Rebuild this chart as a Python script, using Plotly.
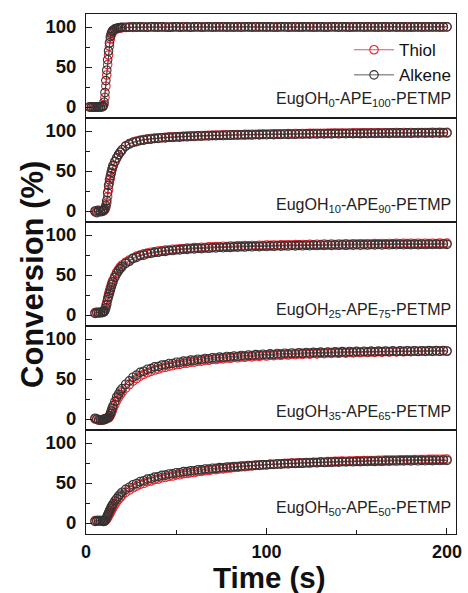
import plotly.graph_objects as go
from plotly.subplots import make_subplots

time_s = [2, 3, 4, 5, 6, 7, 8, 9, 9.5, 10, 10.5, 11, 11.5, 12, 12.5, 13, 13.5, 14, 14.5, 15, 16, 17, 18, 19, 20,
          22, 24, 26, 28, 30, 32, 34, 36, 38, 40,
          42, 44, 46, 48, 50, 52, 54, 56, 58, 60,
          62, 64, 66, 68, 70, 72, 74, 76, 78, 80,
          82, 84, 86, 88, 90, 92, 94, 96, 98, 100,
          102, 104, 106, 108, 110, 112, 114, 116, 118, 120,
          122, 124, 126, 128, 130, 132, 134, 136, 138, 140,
          142, 144, 146, 148, 150, 152, 154, 156, 158, 160,
          162, 164, 166, 168, 170, 172, 174, 176, 178, 180,
          182, 184, 186, 188, 190, 192, 194, 196, 198, 200]

panel_labels = ["EugOH<sub>0</sub>-APE<sub>100</sub>-PETMP",
                "EugOH<sub>10</sub>-APE<sub>90</sub>-PETMP",
                "EugOH<sub>25</sub>-APE<sub>75</sub>-PETMP",
                "EugOH<sub>35</sub>-APE<sub>65</sub>-PETMP",
                "EugOH<sub>50</sub>-APE<sub>50</sub>-PETMP"]

# ---- Panel 1 : EugOH0-APE100 ----
thiol_1 = [-0.2, 0.3, -0.3, 0.4, -0.1, 0.2, -0.4, 0.2, 0.8, 3, 12, 26, 40, 53, 65, 76, 85, 90, 93, 95, 96.8, 97.7, 98.3, 98.8, 99.2,
           99.3, 99.6, 99.5, 99.8, 99.7, 99.9, 99.6, 100.0, 99.8, 99.9,
           100.1, 99.8, 100.0, 99.9, 100.2, 99.8, 100.1, 100.0, 99.7, 100.2,
           100.0, 99.8, 100.1, 100.3, 99.9, 100.0, 100.2, 99.8, 100.1, 100.0,
           99.9, 100.1, 100.0, 100.3, 99.8, 100.1, 100.2, 99.9, 100.0, 100.1,
           100.2, 99.9, 100.1, 100.0, 100.3, 99.8, 100.0, 100.2, 100.1, 99.9,
           100.0, 100.2, 100.1, 99.8, 100.0, 100.3, 99.9, 100.1, 100.2, 100.0,
           100.2, 99.9, 100.0, 100.1, 99.8, 100.2, 100.1, 100.0, 100.3, 99.9,
           100.1, 100.0, 100.2, 99.9, 100.1, 100.3, 100.0, 99.8, 100.2, 100.1,
           100.0, 100.2, 100.1, 99.9, 100.2, 100.0, 100.1, 100.3, 99.9, 100.2]
alkene_1 = [0.3, -0.4, 0.2, -0.3, 0.4, -0.2, 0.1, 0.6, 1.5, 6, 18, 33, 46, 59, 70, 80, 88, 92, 94.5, 96, 97.6, 98.4, 98.9, 99.2, 99.5,
            99.7, 99.9, 100.1, 99.8, 100.2, 100.0, 99.9, 100.3, 100.1, 99.8,
            100.2, 100.0, 99.7, 100.1, 100.3, 99.9, 100.0, 100.2, 99.8, 100.1,
            100.3, 99.9, 100.0, 100.2, 99.8, 100.1, 100.0, 100.3, 99.9, 100.1,
            100.0, 100.2, 99.8, 100.1, 100.3, 99.9, 100.0, 100.2, 100.1, 99.9,
            100.2, 100.0, 99.8, 100.3, 100.1, 99.9, 100.2, 100.0, 99.8, 100.1,
            100.3, 100.0, 99.9, 100.2, 100.1, 99.8, 100.0, 100.3, 100.1, 99.9,
            100.1, 100.2, 99.9, 100.0, 100.3, 100.1, 99.8, 100.2, 100.0, 100.1,
            99.9, 100.2, 100.1, 100.0, 100.3, 99.9, 100.1, 100.2, 100.0, 99.8,
            100.2, 100.1, 99.9, 100.3, 100.0, 100.1, 100.2, 99.9, 100.1, 100.2]

# ---- Panel 2 : EugOH10-APE90 ----
thiol_2 = [None, None, None, -1.0, 0.5, -0.5, 0.0, -0.5, 0.0, 0.5, 2, 5, 10, 18, 27, 35, 41, 47, 52, 56, 61.5, 66, 70, 73.5, 76.5,
           81.4, 84.3, 85.8, 87.5, 88.2, 89.3, 89.7, 90.6, 90.8, 91.5,
           91.5, 92.2, 92.0, 92.7, 92.5, 93.2, 92.9, 93.6, 93.3, 93.9,
           93.7, 94.3, 94.0, 94.6, 94.3, 94.9, 94.6, 95.1, 94.9, 95.3,
           95.1, 95.6, 95.3, 95.8, 95.5, 95.9, 95.7, 96.1, 95.8, 96.3,
           96.0, 96.4, 96.1, 96.5, 96.3, 96.7, 96.4, 96.8, 96.5, 96.9,
           96.7, 97.0, 96.8, 97.1, 96.9, 97.2, 97.0, 97.3, 97.1, 97.4,
           97.2, 97.5, 97.2, 97.6, 97.3, 97.7, 97.4, 97.7, 97.5, 97.8,
           97.6, 97.9, 97.6, 97.9, 97.7, 98.0, 97.8, 98.1, 97.8, 98.1,
           97.9, 98.2, 98.0, 98.2, 98.0, 98.3, 98.1, 98.3, 98.1, 98.3]
alkene_2 = [None, None, None, 0.0, -2.0, 1.0, -1.0, 0.5, 0.5, 1.5, 3, 7, 13, 23, 32, 39, 44, 48.5, 53, 57, 62, 66.5, 70.5, 73.5, 76.5,
            81.0, 83.6, 85.9, 86.6, 88.3, 88.6, 89.8, 89.8, 90.8, 90.7,
            91.6, 91.4, 92.3, 91.9, 92.8, 92.4, 93.3, 92.8, 93.7, 93.2,
            94.0, 93.5, 94.3, 93.8, 94.5, 94.1, 94.7, 94.3, 95.0, 94.6,
            95.2, 94.8, 95.3, 95.0, 95.5, 95.0, 95.7, 95.2, 95.8, 95.4,
            96.0, 95.5, 96.1, 95.7, 96.2, 95.8, 96.3, 95.9, 96.5, 96.0,
            96.5, 96.1, 96.7, 96.2, 96.8, 96.3, 96.8, 96.4, 97.0, 96.5,
            97.0, 96.6, 97.1, 96.7, 97.2, 96.7, 97.3, 96.8, 97.4, 96.9,
            97.4, 96.9, 97.5, 97.0, 97.6, 97.1, 97.6, 97.1, 97.7, 97.2,
            97.7, 97.3, 97.8, 97.3, 97.8, 97.4, 97.9, 97.4, 97.9, 97.5]

# ---- Panel 3 : EugOH25-APE75 ----
thiol_3 = [None, None, None, 3.0, 2.5, 3.5, 3.0, 4.0, 4.5, 5.5, 8, 12, 16, 21.5, 26, 30, 34, 37.5, 41, 44, 49, 53.5, 57, 60, 62.5,
           66.0, 68.8, 71.3, 73.6, 74.9, 76.5, 77.3, 78.5, 78.9, 80.0,
           80.2, 81.1, 81.3, 82.1, 82.2, 82.9, 82.9, 83.6, 83.5, 84.2,
           84.0, 84.7, 84.4, 85.1, 84.8, 85.5, 85.2, 85.9, 85.5, 86.2,
           85.8, 86.4, 86.1, 86.7, 86.3, 86.9, 86.6, 87.1, 86.8, 87.3,
           87.0, 87.5, 87.2, 87.7, 87.3, 87.9, 87.5, 88.0, 87.6, 88.2,
           87.8, 88.3, 87.9, 88.4, 88.0, 88.6, 88.1, 88.7, 88.2, 88.8,
           88.4, 88.9, 88.5, 89.0, 88.6, 89.1, 88.7, 89.1, 88.8, 89.2,
           88.9, 89.3, 88.9, 89.4, 89.0, 89.5, 89.1, 89.5, 89.2, 89.6,
           89.2, 89.6, 89.3, 89.7, 89.3, 89.7, 89.4, 89.8, 89.4, 89.8]
alkene_3 = [None, None, None, 2.0, 3.5, 2.5, 3.5, 3.0, 3.5, 4.0, 5.5, 9, 13, 19, 23, 27, 31, 35, 38.5, 41.5, 47, 51.5, 55, 58, 60.5,
            64.5, 67.2, 70.5, 72.0, 74.3, 74.9, 76.6, 76.9, 78.3, 78.4,
            79.6, 79.5, 80.7, 80.6, 81.5, 81.4, 82.3, 82.0, 82.9, 82.6,
            83.4, 83.0, 83.8, 83.4, 84.2, 83.8, 84.6, 84.1, 84.9, 84.5,
            85.2, 84.8, 85.5, 85.0, 85.8, 85.3, 86.0, 85.5, 86.2, 85.7,
            86.4, 85.9, 86.6, 86.1, 86.7, 86.2, 86.9, 86.4, 87.0, 86.5,
            87.2, 86.6, 87.3, 86.8, 87.5, 86.9, 87.6, 87.0, 87.7, 87.1,
            87.8, 87.2, 87.8, 87.3, 87.9, 87.4, 88.0, 87.5, 88.1, 87.6,
            88.2, 87.7, 88.2, 87.8, 88.3, 87.9, 88.4, 87.9, 88.4, 88.0,
            88.5, 88.0, 88.5, 88.1, 88.6, 88.2, 88.6, 88.2, 88.7, 88.3]

# ---- Panel 4 : EugOH35-APE65 ----
thiol_4 = [None, None, None, 0.0, -0.5, -1.5, -1.0, -1.5, -0.5, -1.0, -0.5, 0.0, 0.5, 1.0, 1.5, 2.5, 4.5, 7, 10, 13, 18, 23, 27, 30.5, 33.5,
           38.5, 43.0, 47.3, 50.6, 53.5, 55.9, 57.8, 59.6, 61.2, 62.4,
           63.8, 64.6, 66.0, 66.6, 67.9, 68.3, 69.6, 69.8, 71.1, 71.1,
           72.4, 72.3, 73.6, 73.4, 74.6, 74.3, 75.5, 75.1, 76.3, 75.9,
           77.0, 76.5, 77.7, 77.1, 78.3, 77.7, 78.8, 78.2, 79.3, 78.7,
           79.8, 79.2, 80.2, 79.6, 80.6, 80.0, 81.0, 80.4, 81.3, 80.7,
           81.7, 81.0, 82.0, 81.3, 82.3, 81.6, 82.6, 81.9, 82.8, 82.2,
           83.1, 82.4, 83.3, 82.7, 83.5, 82.9, 83.7, 83.1, 83.9, 83.3,
           84.1, 83.5, 84.3, 83.7, 84.4, 83.9, 84.6, 84.0, 84.7, 84.2,
           84.8, 84.3, 84.9, 84.4, 85.0, 84.5, 85.1, 84.6, 85.2, 84.7]
alkene_4 = [None, None, None, 1.0, 0.0, -1.0, -1.5, -1.0, -1.0, -0.5, 0.0, 0.5, 1.0, 1.5, 2.5, 4, 7, 10, 13.5, 16.5, 22, 27.5, 31, 35, 38,
            43.5, 47.6, 52.2, 54.9, 58.3, 59.7, 62.1, 63.0, 65.1, 65.6,
            67.4, 67.6, 69.3, 69.4, 70.9, 70.9, 72.3, 72.2, 73.6, 73.4,
            74.7, 74.4, 75.7, 75.3, 76.6, 76.2, 77.4, 76.9, 78.1, 77.6,
            78.8, 78.2, 79.4, 78.8, 80.0, 79.3, 80.5, 79.8, 81.0, 80.3,
            81.4, 80.7, 81.8, 81.1, 82.2, 81.5, 82.5, 81.8, 82.8, 82.1,
            83.1, 82.4, 83.3, 82.7, 83.6, 82.9, 83.8, 83.1, 84.0, 83.3,
            84.2, 83.5, 84.3, 83.7, 84.5, 83.8, 84.6, 84.0, 84.8, 84.1,
            84.9, 84.2, 85.0, 84.3, 85.1, 84.4, 85.2, 84.5, 85.3, 84.6,
            85.4, 84.7, 85.4, 84.8, 85.5, 84.9, 85.6, 84.9, 85.6, 85.0]

# ---- Panel 5 : EugOH50-APE50 ----
thiol_5 = [None, None, None, 3.0, 2.5, 3.5, 2.5, 3.0, 2.5, 2.5, 2.5, 3.5, 5, 7, 9, 11, 13, 15.5, 17.5, 19.5, 23, 26.5, 29.5, 32, 34.5,
           38.3, 41.2, 44.0, 46.0, 48.3, 49.6, 51.6, 52.5, 54.3, 54.9,
           56.5, 56.9, 58.4, 58.7, 60.1, 60.3, 61.6, 61.8, 63.0, 63.1,
           64.3, 64.4, 65.5, 65.6, 66.6, 66.7, 67.6, 67.7, 68.6, 68.7,
           69.5, 69.6, 70.3, 70.5, 71.1, 71.3, 71.9, 72.0, 72.6, 72.7,
           73.3, 73.4, 73.9, 74.0, 74.4, 74.5, 74.8, 74.9, 75.2, 75.3,
           75.6, 75.6, 76.0, 76.0, 76.4, 76.3, 76.7, 76.7, 77.0, 77.0,
           77.3, 77.2, 77.5, 77.5, 77.8, 77.7, 78.0, 78.0, 78.2, 78.2,
           78.4, 78.4, 78.6, 78.6, 78.8, 78.8, 79.0, 78.9, 79.1, 79.1,
           79.2, 79.3, 79.4, 79.4, 79.5, 79.5, 79.6, 79.7, 79.7, 79.8]
alkene_5 = [None, None, None, 2.0, 3.0, 2.5, 3.0, 2.5, 2.0, 2.0, 3, 5, 7.5, 10, 12.5, 15, 17.5, 20, 22, 24, 27.5, 30.5, 33.5, 36, 38.5,
            42.0, 44.7, 47.8, 49.3, 51.8, 52.8, 54.9, 55.6, 57.4, 57.9,
            59.5, 59.8, 61.3, 61.5, 62.8, 62.9, 64.2, 64.2, 65.4, 65.4,
            66.5, 66.4, 67.5, 67.4, 68.4, 68.3, 69.2, 69.1, 70.0, 69.9,
            70.7, 70.6, 71.3, 71.2, 71.9, 71.8, 72.4, 72.3, 72.9, 72.8,
            73.4, 73.2, 73.8, 73.6, 74.2, 74.0, 74.6, 74.4, 74.9, 74.7,
            75.3, 75.0, 75.6, 75.3, 75.9, 75.6, 76.1, 75.9, 76.4, 76.1,
            76.6, 76.3, 76.8, 76.5, 77.0, 76.7, 77.2, 76.9, 77.4, 77.0,
            77.5, 77.2, 77.7, 77.3, 77.8, 77.5, 77.9, 77.6, 78.1, 77.7,
            78.2, 77.8, 78.3, 77.9, 78.4, 78.0, 78.5, 78.1, 78.6, 78.2]

thiol_series = [thiol_1, thiol_2, thiol_3, thiol_4, thiol_5]
alkene_series = [alkene_1, alkene_2, alkene_3, alkene_4, alkene_5]
label_pos = [0.18, 0.16, 0.145, 0.17, 0.25]

FONT = "Liberation Sans, Arial, Helvetica, sans-serif"
RED = "#e3262d"
GRAY = "#333333"
AXC = "#1a1a1a"

fig = make_subplots(rows=5, cols=1, shared_xaxes=True, vertical_spacing=0)

for i in range(5):
    r = i + 1
    fig.add_trace(go.Scatter(
        x=time_s, y=thiol_series[i], name="Thiol", mode="lines+markers",
        line=dict(color=RED, width=0.8),
        marker=dict(symbol="circle-open", size=8.5, color=RED, line=dict(width=1.1, color=RED)),
        showlegend=(i == 0), legendrank=1), row=r, col=1)
    fig.add_trace(go.Scatter(
        x=time_s, y=alkene_series[i], name="Alkene", mode="lines+markers",
        line=dict(color=GRAY, width=0.8),
        marker=dict(symbol="circle-open", size=8.5, color=GRAY, line=dict(width=1.1, color=GRAY)),
        showlegend=(i == 0), legendrank=2), row=r, col=1)
    sfx = "" if r == 1 else str(r)
    fig.add_annotation(text=panel_labels[i], xref=f"x{sfx} domain", yref=f"y{sfx} domain",
                       x=0.992, y=label_pos[i], xanchor="right", yanchor="middle",
                       showarrow=False, font=dict(family=FONT, size=16, color="#222"))

fig.update_yaxes(range=[-13.75, 116.25], tick0=0, dtick=50, ticks="inside", ticklen=6, tickwidth=1,
                 tickcolor=AXC, showline=True, linecolor=AXC, linewidth=1, mirror=True,
                 showgrid=False, zeroline=False, ticklabelstandoff=5,
                 tickfont=dict(family=FONT, size=18.5, color="#111", weight="bold"),
                 minor=dict(dtick=25, tick0=0, ticks="inside", ticklen=3.5, tickcolor=AXC))
fig.update_xaxes(range=[0, 205], showline=True, linecolor=AXC, linewidth=1, mirror=True,
                 showgrid=False, zeroline=False, ticks="", showticklabels=False)
fig.update_xaxes(row=5, col=1, tick0=0, dtick=100, ticks="inside", ticklen=6, tickwidth=1, tickcolor=AXC,
                 showticklabels=True, ticklabelstandoff=1, ticklabeloverflow="allow",
                 tickfont=dict(family=FONT, size=18, color="#111", weight="bold"),
                 minor=dict(dtick=50, tick0=0, ticks="inside", ticklen=4, tickcolor=AXC))

fig.add_annotation(text="Conversion (%)", xref="paper", yref="paper", x=-0.146, y=0.5,
                   xanchor="center", yanchor="middle", textangle=-90, showarrow=False,
                   font=dict(family=FONT, size=31, color="#111", weight="bold"))
fig.add_annotation(text="Time (s)", xref="paper", yref="paper", x=0.495, y=-0.0845,
                   xanchor="center", yanchor="middle", showarrow=False,
                   font=dict(family=FONT, size=29.5, color="#111", weight="bold"))

fig.update_layout(
    width=468, height=593,
    margin=dict(l=86, r=6, t=14, b=59),
    paper_bgcolor="white", plot_bgcolor="white",
    showlegend=True,
    legend=dict(x=1.0, y=0.965, xanchor="right", yanchor="top",
                bgcolor="rgba(0,0,0,0)", borderwidth=0, itemwidth=40,
                font=dict(family=FONT, size=17, color="#111"), tracegroupgap=0),
)

fig.write_html("out.html", config={"displayModeBar": False},
               post_script="document.body.style.margin='0';document.body.style.padding='0';")
